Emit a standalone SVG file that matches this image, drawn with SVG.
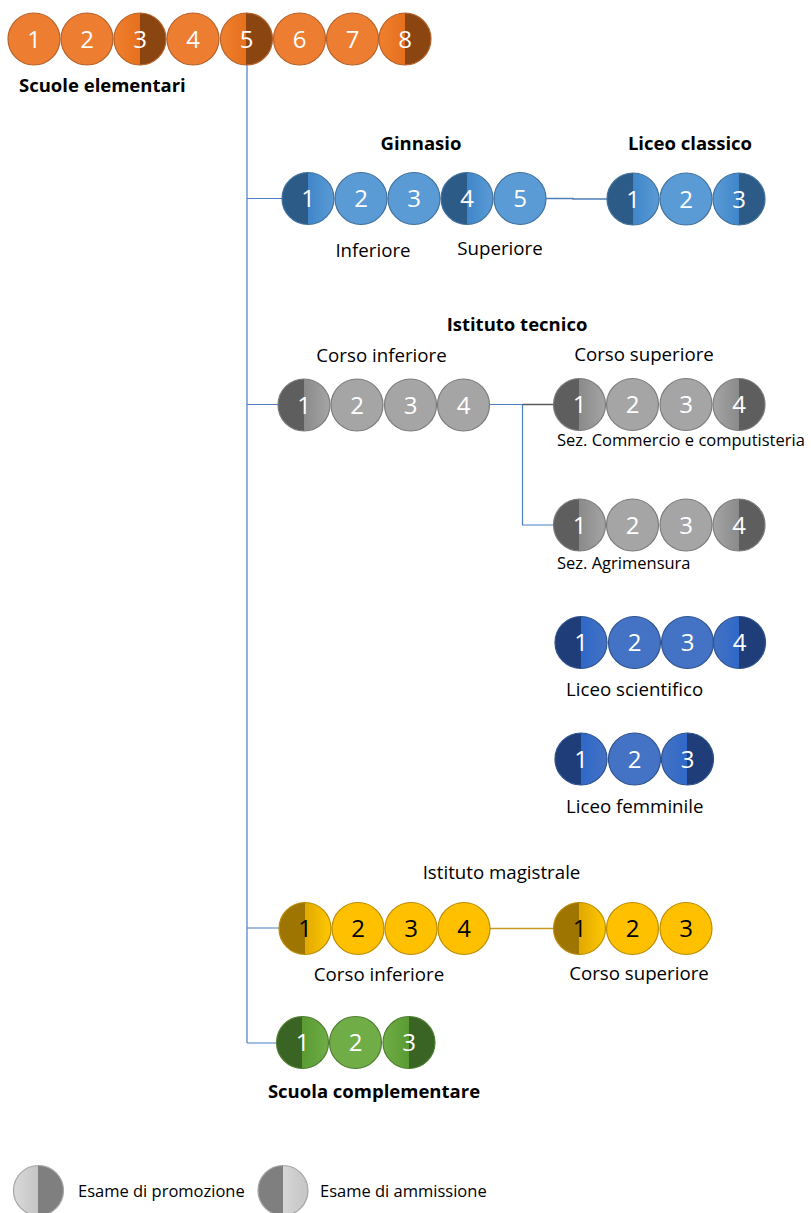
<svg xmlns="http://www.w3.org/2000/svg" width="811" height="1213" viewBox="0 0 811 1213">
<defs>
<linearGradient id="or-p" x1="0" y1="0" x2="1" y2="0"><stop offset="0" stop-color="#F0802E"/><stop offset="0.5" stop-color="#E56F1C"/><stop offset="0.5" stop-color="#8B4511"/><stop offset="1" stop-color="#8B4511"/></linearGradient>
<linearGradient id="bl-a" x1="0" y1="0" x2="1" y2="0"><stop offset="0" stop-color="#2D5B87"/><stop offset="0.5" stop-color="#2D5B87"/><stop offset="0.5" stop-color="#3F86C9"/><stop offset="1" stop-color="#5B9BD5"/></linearGradient>
<linearGradient id="bl-p" x1="0" y1="0" x2="1" y2="0"><stop offset="0" stop-color="#5B9BD5"/><stop offset="0.5" stop-color="#3F86C9"/><stop offset="0.5" stop-color="#2D5B87"/><stop offset="1" stop-color="#2D5B87"/></linearGradient>
<linearGradient id="gr-a" x1="0" y1="0" x2="1" y2="0"><stop offset="0" stop-color="#5E5E5E"/><stop offset="0.5" stop-color="#5E5E5E"/><stop offset="0.5" stop-color="#8A8A8A"/><stop offset="1" stop-color="#A5A5A5"/></linearGradient>
<linearGradient id="gr-p" x1="0" y1="0" x2="1" y2="0"><stop offset="0" stop-color="#A5A5A5"/><stop offset="0.5" stop-color="#8A8A8A"/><stop offset="0.5" stop-color="#5E5E5E"/><stop offset="1" stop-color="#5E5E5E"/></linearGradient>
<linearGradient id="sc-a" x1="0" y1="0" x2="1" y2="0"><stop offset="0" stop-color="#1F3D79"/><stop offset="0.5" stop-color="#1F3D79"/><stop offset="0.5" stop-color="#2F68C8"/><stop offset="1" stop-color="#4472C4"/></linearGradient>
<linearGradient id="sc-p" x1="0" y1="0" x2="1" y2="0"><stop offset="0" stop-color="#4472C4"/><stop offset="0.5" stop-color="#2F68C8"/><stop offset="0.5" stop-color="#1F3D79"/><stop offset="1" stop-color="#1F3D79"/></linearGradient>
<linearGradient id="ye-a" x1="0" y1="0" x2="1" y2="0"><stop offset="0" stop-color="#9E7500"/><stop offset="0.5" stop-color="#9E7500"/><stop offset="0.5" stop-color="#E2A900"/><stop offset="1" stop-color="#FFC800"/></linearGradient>
<linearGradient id="gn-a" x1="0" y1="0" x2="1" y2="0"><stop offset="0" stop-color="#3A6424"/><stop offset="0.5" stop-color="#3A6424"/><stop offset="0.5" stop-color="#5A9B33"/><stop offset="1" stop-color="#70AD47"/></linearGradient>
<linearGradient id="gn-p" x1="0" y1="0" x2="1" y2="0"><stop offset="0" stop-color="#70AD47"/><stop offset="0.5" stop-color="#5A9B33"/><stop offset="0.5" stop-color="#3A6424"/><stop offset="1" stop-color="#3A6424"/></linearGradient>
<linearGradient id="lg-p" x1="0" y1="0" x2="1" y2="0"><stop offset="0" stop-color="#DADADA"/><stop offset="0.5" stop-color="#C4C4C4"/><stop offset="0.5" stop-color="#7F7F7F"/><stop offset="1" stop-color="#7F7F7F"/></linearGradient>
<linearGradient id="lg-a" x1="0" y1="0" x2="1" y2="0"><stop offset="0" stop-color="#7F7F7F"/><stop offset="0.5" stop-color="#7F7F7F"/><stop offset="0.5" stop-color="#D6D6D6"/><stop offset="1" stop-color="#C4C4C4"/></linearGradient>
</defs>
<style>
circle{stroke-width:1.2}
.or{fill:#ED7D31;stroke:#B5622A}
.bl{fill:#5B9BD5;stroke:#41719C}
.gr{fill:#A5A5A5;stroke:#7C7C7C}
.sc{fill:#4472C4;stroke:#2F528F}
.ye{fill:#FFC000;stroke:#BC8C00}
.gn{fill:#70AD47;stroke:#507E32}
.lg{stroke:#A6A6A6}
.n{font-family:"Open Sans","Noto Sans",sans-serif;font-size:24px;fill:#FFFFFF;text-anchor:middle}
.nk{fill:#000000}
.t{font-family:"Open Sans","Noto Sans",sans-serif;font-size:18.7px;fill:#000000}
.b{font-weight:bold;font-size:18.5px}
.s{font-size:16.5px}
.m{text-anchor:middle}
.ln{fill:none;stroke:#4A7EC7;stroke-width:1.2}
</style>

<g id="connectors">
<path class="ln" d="M247,65 V1043 M247,198.5 H282 M247,404.5 H278 M247,928 H279 M247,1043 H277"/>
<path d="M546,198.5 H573 V199 H607" fill="none" stroke="#4F7FB8" stroke-width="1.5"/>
<path class="ln" d="M490,404.5 H522.5 V525 H553"/>
<path d="M522.5,404.5 H553" fill="none" stroke="#5A5A5A" stroke-width="1.5"/>
<path d="M490,928.5 H554" fill="none" stroke="#C79A22" stroke-width="1.5"/>
</g>

<g id="scuole-elementari">
<circle class="or" cx="34" cy="39" r="26"/>
<circle class="or" cx="87" cy="39" r="26"/>
<circle class="or" cx="140" cy="39" r="26" fill="url(#or-p)" style="fill:url(#or-p)"/>
<circle class="or" cx="193" cy="39" r="26"/>
<circle class="or" cx="246.5" cy="39" r="26" style="fill:url(#or-p)"/>
<circle class="or" cx="299.5" cy="39" r="26"/>
<circle class="or" cx="352.5" cy="39" r="26"/>
<circle class="or" cx="405" cy="39" r="26" style="fill:url(#or-p)"/>
<text class="n" x="34" y="47.6">1</text>
<text class="n" x="87" y="47.6">2</text>
<text class="n" x="140" y="47.6">3</text>
<text class="n" x="193" y="47.6">4</text>
<text class="n" x="246.5" y="47.6">5</text>
<text class="n" x="299.5" y="47.6">6</text>
<text class="n" x="352.5" y="47.6">7</text>
<text class="n" x="405" y="47.6">8</text>
<text class="t b" x="19" y="92">Scuole elementari</text>
</g>

<g id="ginnasio">
<circle class="bl" cx="308" cy="198.5" r="26" style="fill:url(#bl-a)"/>
<circle class="bl" cx="361" cy="198.5" r="26"/>
<circle class="bl" cx="414" cy="198.5" r="26"/>
<circle class="bl" cx="467" cy="198.5" r="26" style="fill:url(#bl-a)"/>
<circle class="bl" cx="520" cy="198.5" r="26"/>
<text class="n" x="308" y="207">1</text>
<text class="n" x="361" y="207">2</text>
<text class="n" x="414" y="207">3</text>
<text class="n" x="467" y="207">4</text>
<text class="n" x="520" y="207">5</text>
<text class="t b m" x="421" y="150">Ginnasio</text>
<text class="t m" x="373" y="257">Inferiore</text>
<text class="t m" x="500" y="255">Superiore</text>
</g>

<g id="liceo-classico">
<circle class="bl" cx="633" cy="199" r="26" style="fill:url(#bl-a)"/>
<circle class="bl" cx="686" cy="199" r="26"/>
<circle class="bl" cx="739" cy="199" r="26" style="fill:url(#bl-p)"/>
<text class="n" x="633" y="207.5">1</text>
<text class="n" x="686" y="207.5">2</text>
<text class="n" x="739" y="207.5">3</text>
<text class="t b m" x="690" y="150">Liceo classico</text>
</g>

<g id="istituto-tecnico-inferiore">
<text class="t b m" x="517" y="331">Istituto tecnico</text>
<circle class="gr" cx="304" cy="405" r="26" style="fill:url(#gr-a)"/>
<circle class="gr" cx="357" cy="405" r="26"/>
<circle class="gr" cx="410.5" cy="405" r="26"/>
<circle class="gr" cx="463.5" cy="405" r="26"/>
<text class="n" x="304" y="413.5">1</text>
<text class="n" x="357" y="413.5">2</text>
<text class="n" x="410.5" y="413.5">3</text>
<text class="n" x="463.5" y="413.5">4</text>
<text class="t m" x="381.5" y="362">Corso inferiore</text>
</g>

<g id="sez-commercio">
<circle class="gr" cx="579.5" cy="404.5" r="26" style="fill:url(#gr-a)"/>
<circle class="gr" cx="632.5" cy="404.5" r="26"/>
<circle class="gr" cx="686" cy="404.5" r="26"/>
<circle class="gr" cx="739" cy="404.5" r="26" style="fill:url(#gr-p)"/>
<text class="n" x="579.5" y="413">1</text>
<text class="n" x="632.5" y="413">2</text>
<text class="n" x="686" y="413">3</text>
<text class="n" x="739" y="413">4</text>
<text class="t m" x="644" y="361">Corso superiore</text>
<text class="t s" x="557" y="446">Sez. Commercio e computisteria</text>
</g>

<g id="sez-agrimensura">
<circle class="gr" cx="579.5" cy="525" r="26" style="fill:url(#gr-a)"/>
<circle class="gr" cx="632.5" cy="525" r="26"/>
<circle class="gr" cx="686" cy="525" r="26"/>
<circle class="gr" cx="739" cy="525" r="26" style="fill:url(#gr-p)"/>
<text class="n" x="579.5" y="533.5">1</text>
<text class="n" x="632.5" y="533.5">2</text>
<text class="n" x="686" y="533.5">3</text>
<text class="n" x="739" y="533.5">4</text>
<text class="t s" x="557" y="569">Sez. Agrimensura</text>
</g>

<g id="liceo-scientifico">
<circle class="sc" cx="581" cy="642.5" r="26" style="fill:url(#sc-a)"/>
<circle class="sc" cx="634.5" cy="642.5" r="26"/>
<circle class="sc" cx="687.5" cy="642.5" r="26"/>
<circle class="sc" cx="739.5" cy="642.5" r="26" style="fill:url(#sc-p)"/>
<text class="n" x="581" y="651">1</text>
<text class="n" x="634.5" y="651">2</text>
<text class="n" x="687.5" y="651">3</text>
<text class="n" x="739.5" y="651">4</text>
<text class="t" x="566" y="696">Liceo scientifico</text>
</g>

<g id="liceo-femminile">
<circle class="sc" cx="581" cy="759" r="26" style="fill:url(#sc-a)"/>
<circle class="sc" cx="634.5" cy="759" r="26"/>
<circle class="sc" cx="687.5" cy="759" r="26" style="fill:url(#sc-p)"/>
<text class="n" x="581" y="767.5">1</text>
<text class="n" x="634.5" y="767.5">2</text>
<text class="n" x="687.5" y="767.5">3</text>
<text class="t" x="566" y="813">Liceo femminile</text>
</g>

<g id="istituto-magistrale-inferiore">
<text class="t m" x="501.5" y="879">Istituto magistrale</text>
<circle class="ye" cx="305" cy="928.5" r="26" style="fill:url(#ye-a)"/>
<circle class="ye" cx="358" cy="928.5" r="26"/>
<circle class="ye" cx="411" cy="928.5" r="26"/>
<circle class="ye" cx="464" cy="928.5" r="26"/>
<text class="n nk" x="305" y="937">1</text>
<text class="n nk" x="358" y="937">2</text>
<text class="n nk" x="411" y="937">3</text>
<text class="n nk" x="464" y="937">4</text>
<text class="t m" x="379" y="981">Corso inferiore</text>
</g>

<g id="istituto-magistrale-superiore">
<circle class="ye" cx="579.5" cy="928.5" r="26" style="fill:url(#ye-a)"/>
<circle class="ye" cx="632.5" cy="928.5" r="26"/>
<circle class="ye" cx="686" cy="928.5" r="26"/>
<text class="n nk" x="579.5" y="937">1</text>
<text class="n nk" x="632.5" y="937">2</text>
<text class="n nk" x="686" y="937">3</text>
<text class="t m" x="639" y="980">Corso superiore</text>
</g>

<g id="scuola-complementare">
<circle class="gn" cx="302.5" cy="1042.5" r="26" style="fill:url(#gn-a)"/>
<circle class="gn" cx="355.5" cy="1042.5" r="26"/>
<circle class="gn" cx="409" cy="1042.5" r="26" style="fill:url(#gn-p)"/>
<text class="n" x="302.5" y="1051">1</text>
<text class="n" x="355.5" y="1051">2</text>
<text class="n" x="409" y="1051">3</text>
<text class="t b m" x="374" y="1098">Scuola complementare</text>
</g>

<g id="legend">
<circle class="lg" cx="38.5" cy="1190.5" r="25" style="fill:url(#lg-p)"/>
<text class="t s" x="78" y="1197">Esame di promozione</text>
<circle class="lg" cx="283" cy="1190.5" r="25" style="fill:url(#lg-a)"/>
<text class="t s" x="320" y="1197">Esame di ammissione</text>
</g>
</svg>
